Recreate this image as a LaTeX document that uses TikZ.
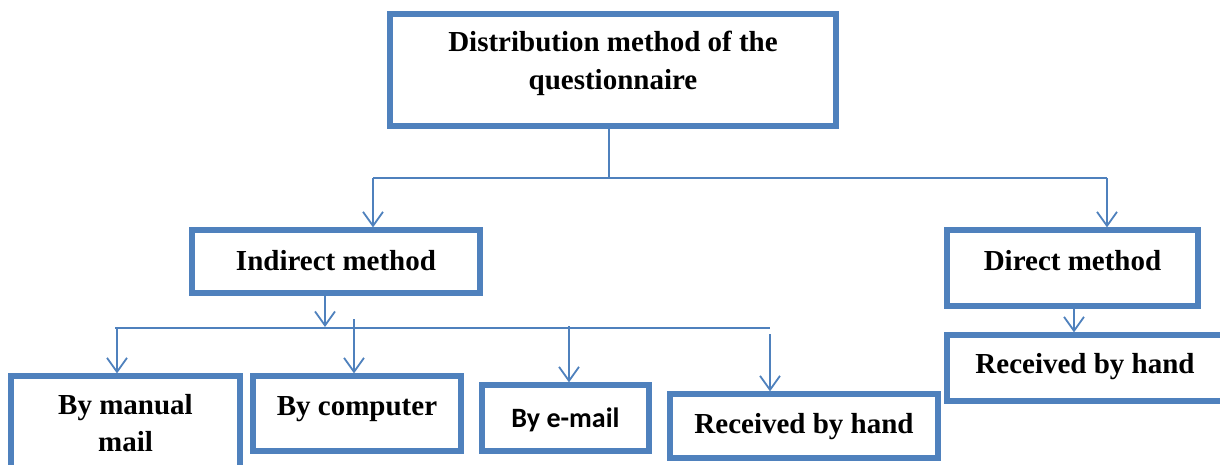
\documentclass[tikz,border=0pt]{standalone}
\usepackage{fontspec}
\setmainfont{Liberation Serif}
\newfontfamily\carlito{Carlito}
\usetikzlibrary{arrows.meta}
\definecolor{boxblue}{RGB}{79,129,189}

\begin{document}
\begin{tikzpicture}
        [x=0.5pt,y=-0.5pt,
         box/.style={draw=boxblue,line width=2.6pt,align=center,inner sep=0pt,
                     text height=13pt,text depth=3pt,
                     font=\fontsize{14.5}{18.5}\selectfont\bfseries},
         link/.style={draw=boxblue,line width=0.9pt},
         arr/.style={link,-{Straight Barb[length=7pt,width=10pt]}}]
        \useasboundingbox (0,0) rectangle (1220,465);

        \node[box,minimum width=223pt,minimum height=56pt,text height=,text depth=10pt,
              font=\fontsize{14.5}{19.2}\selectfont\bfseries] (top) at (613,70)
          {Distribution method of the\\questionnaire};
        \node[box,minimum width=144pt,minimum height=31.5pt,text depth=4.5pt] (indirect) at (336,261.5) {Indirect method};
        \node[box,minimum width=125.5pt,minimum height=38pt,text depth=11pt] (direct) at (1072.5,268) {Direct method};
        \node[box,minimum width=138pt,minimum height=33pt,text depth=8pt] (handR) at (1085,368) {Received by hand};

        \node[box,minimum width=114.5pt,minimum height=47pt,text height=,text depth=] (manual) at (125.5,423) {By manual\\mail};
        \node[box,minimum width=104pt,minimum height=37.5pt,text depth=11.5pt] (computer) at (357,413.5) {By computer};
        \node[box,minimum width=83.5pt,minimum height=33pt,text depth=4pt,
              font=\fontsize{14}{17}\selectfont\carlito\bfseries] (email) at (565.5,418) {By e-mail};
        \node[box,minimum width=134pt,minimum height=32pt,text depth=6pt] (handB) at (804,426) {Received by hand};

        % first level
        \coordinate (split) at (609,178);
        \coordinate (lft) at (373,178);
        \coordinate (rgt) at (1107,178);
        \draw[link] (top.south -| split) -- (split);
        \draw[link] (lft) -- (rgt);
        \draw[arr] (lft) -- (indirect.north -| lft);
        \draw[arr] (rgt) -- (direct.north -| rgt);

        % indirect branches
        \coordinate (down) at (325,327);
        \coordinate (busL) at (115,328);
        \coordinate (busR) at (770,328);
        \draw[arr] (indirect.south -| down) -- (down);
        \draw[link] (busL) -- (busR);
        \foreach \x/\y/\n in {117/328/manual,354/319/computer,569/326/email,770/334/handB}
        {\draw[arr] (\x,\y) -- (\n.north -| \x,\y);}

        % direct branch
        \coordinate (dd) at (1074,308);
        \draw[arr] (direct.south -| dd) -- (handR.north -| dd);
      \end{tikzpicture}
\end{document}
